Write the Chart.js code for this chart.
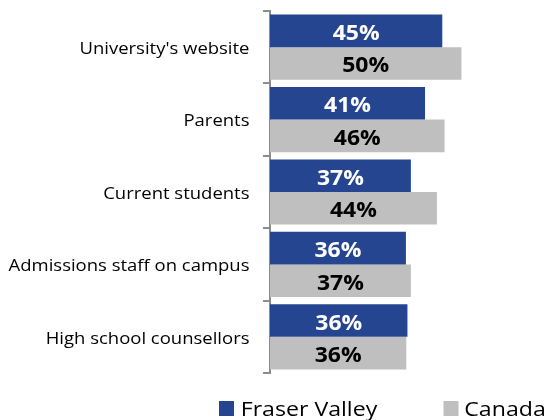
<!DOCTYPE html>
<html><head><meta charset="utf-8">
<script src="https://cdn.jsdelivr.net/npm/chart.js@4/dist/chart.umd.min.js"></script>
<style>html,body{margin:0;padding:0;background:#fff;}</style>
</head><body>
<canvas id="c" width="545" height="420"></canvas>
<script>
const categories = ["University's website", "Parents", "Current students", "Admissions staff on campus", "High school counsellors"];
const fraserValley = [45.0, 40.5, 36.8, 35.5, 35.9];
const canada = [50.0, 45.6, 43.6, 36.8, 35.6];
const seriesNames = ["Fraser Valley", "Canada"];
const seriesColors = ["#264591", "#BFBFBF"];
const valueLabelColors = ["#FFFFFF", "#000000"];

const FONT = "'Open Sans', 'DejaVu Sans', sans-serif";

function stretchedText(ctx, text, x, y, sx) {
  ctx.save();
  ctx.translate(x, y);
  ctx.scale(sx, 1);
  ctx.fillText(text, 0, 0);
  ctx.restore();
}

const valueLabels = {
  id: 'valueLabels',
  afterDatasetsDraw(chart) {
    const ctx = chart.ctx;
    ctx.save();
    ctx.font = "bold 20.5px " + FONT;
    ctx.textAlign = 'center';
    ctx.textBaseline = 'alphabetic';
    chart.data.datasets.forEach((ds, di) => {
      const meta = chart.getDatasetMeta(di);
      meta.data.forEach((el, i) => {
        ctx.fillStyle = valueLabelColors[di];
        stretchedText(ctx, Math.round(ds.data[i]) + '%', (el.base + el.x) / 2, el.y + 9, 1.12);
      });
    });
    ctx.restore();
  }
};

const categoryLabels = {
  id: 'categoryLabels',
  afterDraw(chart) {
    const ctx = chart.ctx;
    const ys = chart.scales.y;
    ctx.save();
    ctx.font = "16px " + FONT;
    ctx.textAlign = 'right';
    ctx.textBaseline = 'alphabetic';
    ctx.fillStyle = '#000000';
    chart.data.labels.forEach((lab, i) => {
      stretchedText(ctx, lab, ys.right - 20.5, ys.getPixelForValue(i) + 6.8, 1.155);
    });
    ctx.restore();
  }
};

const customLegend = {
  id: 'customLegend',
  afterDraw(chart) {
    const ctx = chart.ctx;
    const items = [{box: 219, text: 240.7}, {box: 443.5, text: 464.3}];
    ctx.save();
    ctx.font = "19.6px " + FONT;
    ctx.textAlign = 'left';
    ctx.textBaseline = 'alphabetic';
    chart.data.datasets.forEach((ds, di) => {
      ctx.fillStyle = ds.backgroundColor;
      ctx.fillRect(items[di].box, 401, 15, 15);
      ctx.fillStyle = '#000000';
      stretchedText(ctx, ds.label, items[di].text, 415.7, 1.18);
    });
    ctx.restore();
  }
};

new Chart(document.getElementById('c'), {
  type: 'bar',
  data: {
    labels: categories,
    datasets: [
      {label: seriesNames[0], data: fraserValley, backgroundColor: seriesColors[0]},
      {label: seriesNames[1], data: canada, backgroundColor: seriesColors[1]}
    ]
  },
  options: {
    indexAxis: 'y',
    responsive: false,
    animation: false,
    layout: {padding: {top: 11, bottom: 47, left: 0, right: 7}},
    datasets: {bar: {categoryPercentage: 0.9, barPercentage: 1.0}},
    plugins: {legend: {display: false}, tooltip: {enabled: false}},
    scales: {
      x: {display: false, min: 0, max: 70},
      y: {
        afterFit(scale) { scale.width = 270; },
        border: {display: true, color: '#8C8C8C', width: 2},
        grid: {drawOnChartArea: false, drawTicks: true, tickLength: 7, color: '#8C8C8C', lineWidth: 2, offset: true},
        ticks: {display: false}
      }
    }
  },
  plugins: [valueLabels, categoryLabels, customLegend]
});
</script>
</body></html>
